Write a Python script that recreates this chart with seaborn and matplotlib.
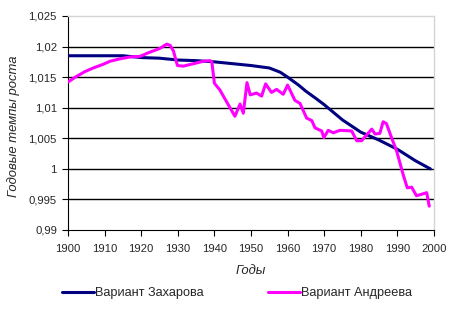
import numpy as np
import pandas as pd
import matplotlib
matplotlib.use("Agg")
import matplotlib.pyplot as plt
from matplotlib.lines import Line2D
import seaborn as sns

# Data
zakh_years = [1900, 1905, 1910, 1915, 1920, 1925, 1930, 1935, 1940, 1945, 1950,
              1955, 1958, 1960, 1963, 1965, 1968, 1970, 1975, 1980, 1985, 1990,
              1995, 1999]
zakh_vals = [1.0185, 1.0185, 1.0185, 1.0185, 1.0182, 1.0181, 1.0178, 1.0177,
             1.0175, 1.0172, 1.0169, 1.0165, 1.0158, 1.0150, 1.0137, 1.0127,
             1.0114, 1.0105, 1.0080, 1.0060, 1.0047, 1.0032, 1.0013, 1.0000]

andr_years = [1900, 1902, 1904.6, 1906.9, 1909.6, 1911.5, 1914.2, 1917, 1919.7,
              1922, 1923.8, 1925.1, 1927, 1927.9, 1928.8, 1929.9, 1931.5, 1934.3,
              1937, 1938.8, 1939.3, 1940, 1941.5, 1943.3, 1945.6, 1947, 1947.9,
              1948.9, 1949.8, 1951.5, 1952.9, 1954, 1955.6, 1957, 1958.8, 1960,
              1962, 1963.4, 1965.2, 1966.6, 1967.5, 1969.3, 1969.9, 1971.1,
              1972.5, 1974.3, 1977.5, 1978.9, 1980.2, 1983, 1983.9, 1985.2,
              1986.1, 1987, 1988.4, 1989.8, 1991.6, 1992.7, 1993.9, 1995.2,
              1996.9, 1998, 1998.7]
andr_vals = [1.0142, 1.0150, 1.0159, 1.0165, 1.0171, 1.0176, 1.0180, 1.0183,
             1.0184, 1.0190, 1.0194, 1.0197, 1.0204, 1.0202, 1.0193, 1.0169,
             1.0168, 1.0172, 1.0176, 1.0177, 1.0175, 1.0140, 1.0129, 1.0110,
             1.0086, 1.0106, 1.0091, 1.0141, 1.0121, 1.0124, 1.0119, 1.0139,
             1.0125, 1.0130, 1.0122, 1.0137, 1.0112, 1.0107, 1.0083, 1.0079,
             1.0067, 1.0062, 1.0051, 1.0063, 1.0059, 1.0063, 1.0062, 1.0046,
             1.0046, 1.0065, 1.0057, 1.0058, 1.0077, 1.0074, 1.0051, 1.0029,
             0.9990, 0.9969, 0.9970, 0.9956, 0.9959, 0.9961, 0.9939]

series_names = ["Вариант Захарова", "Вариант Андреева"]
colors = ["#000080", "#FF00FF"]
y_ticks = [0.99, 0.995, 1.0, 1.005, 1.01, 1.015, 1.02, 1.025]
y_tick_labels = ["0,99", "0,995", "1", "1,005", "1,01", "1,015", "1,02", "1,025"]
x_ticks = list(range(1900, 2001, 10))
x_title = "Годы"
y_title = "Годовые темпы роста"

df = pd.concat([
    pd.DataFrame({"year": zakh_years, "val": zakh_vals, "series": series_names[0]}),
    pd.DataFrame({"year": andr_years, "val": andr_vals, "series": series_names[1]}),
], ignore_index=True)

sns.set_style("white")
plt.rcParams["font.family"] = ["Liberation Sans", "DejaVu Sans"]

fig = plt.figure(figsize=(4.55, 3.10), dpi=100)
ax = fig.add_axes([68 / 455, 1 - 230 / 310, (434 - 68) / 455, (230 - 16) / 310])

for yv in y_ticks[1:-1]:
    ax.axhline(yv, color="black", lw=1.0, zorder=1)

sns.lineplot(data=df, x="year", y="val", hue="series", hue_order=series_names,
             palette=colors, linewidth=2.2, ax=ax, sort=False, estimator=None,
             legend=False, zorder=3)

ax.set_xlim(1900, 2000)
ax.set_ylim(0.99, 1.025)
ax.set_xticks(x_ticks)
ax.set_xticklabels([str(x) for x in x_ticks], fontsize=8.1)
ax.set_yticks(y_ticks)
ax.set_yticklabels(y_tick_labels, fontsize=8.1)
ax.tick_params(axis="both", direction="out", length=4, width=0.8, color="black",
               left=True, bottom=True)
ax.tick_params(axis="x", pad=6)
ax.tick_params(axis="y", pad=4)

for s in ["left", "bottom"]:
    ax.spines[s].set_color("black")
    ax.spines[s].set_linewidth(0.8)
for s in ["top", "right"]:
    ax.spines[s].set_color("#d4d4d4")
    ax.spines[s].set_linewidth(1.0)

ax.set_xlabel("")
ax.set_ylabel("")
fig.text(251 / 455, 1 - 271 / 310, x_title, fontsize=9.4, style="italic",
         ha="center", va="center")
fig.text(14 / 455, 1 - 126.5 / 310, y_title, fontsize=9.4, style="italic",
         ha="center", va="center", rotation=90)

handles = [Line2D([], [], color=c, lw=2.2) for c in colors]
fig.legend(handles, series_names, loc="center", bbox_to_anchor=(237 / 455, 1 - 293 / 310),
           ncol=2, frameon=False, fontsize=9.2, handlelength=2.5,
           handletextpad=0.1, columnspacing=5.0)

fig.savefig("out.png", dpi=100, facecolor="white")
